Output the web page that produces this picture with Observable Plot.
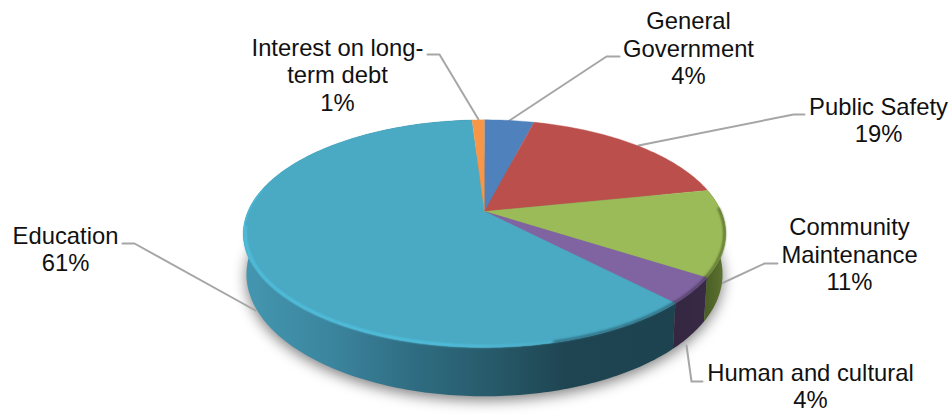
<!DOCTYPE html>
<html>
<head>
<meta charset="utf-8">
<script src="https://cdn.jsdelivr.net/npm/d3@7"></script>
<script src="https://cdn.jsdelivr.net/npm/@observablehq/plot@0.6"></script>
<style>html,body{margin:0;padding:0;background:#fff}svg{display:block}</style>
</head>
<body>
<div id="chart"></div>
<script>
// Data
const categories = ["General Government", "Public Safety", "Community Maintenance", "Human and cultural", "Education", "Interest on long-term debt"];
const printedPercent = [4, 19, 11, 4, 61, 1];
// Slice shares as drawn in the picture (percent of the circle, clockwise from 12 o'clock)
const drawnShare = [4.0, 17.8, 12.3, 3.7, 61.2, 1.0];
const labelLines = ["General\nGovernment", "Public Safety", "Community\nMaintenance", "Human and cultural", "Education", "Interest on long-\nterm debt"];
const colors = ["#4f81bd", "#bb4f4b", "#9bbb59", "#8064a2", "#4aa9c3", "#f79646"];

// Layout
const labelPos = [[688, 47.5], [878, 119], [849, 253.5], [810, 385], [65, 248], [337, 74]];
const leaders = [
  [[619, 56], [606, 56], [509, 120]],
  [[804, 114], [793, 114], [638, 145]],
  [[777, 263], [764, 263], [721, 283]],
  [[702, 381], [691, 381], [686, 345]],
  [[122, 243], [134, 243], [255, 310]],
  [[427, 54], [439, 54], [478, 119]]
];
const top3d = {cx: 484, apex: 211, H: 109.5, R: 236.6};
const bottom3d = {cx: 484, apex: 250, H: 117.4, R: 233.5};
const k = 0.1947;

const project = (deg, lvl, f = 1) => {
  const t = deg * Math.PI / 180, u = f * Math.sin(t), v = -f * Math.cos(t), w = 1 - k * v;
  return {x: lvl.cx + lvl.R * u / w, y: lvl.apex + lvl.H * v / w};
};
const arc = (a0, a1, lvl, f = 1) => {
  const n = Math.max(2, Math.ceil(Math.abs(a1 - a0)));
  return d3.range(n + 1).map(i => project(a0 + (a1 - a0) * i / n, lvl, f));
};

let acc = 0;
const slices = categories.map((name, i) => {
  const a0 = acc * 3.6; acc += drawnShare[i]; const a1 = acc * 3.6;
  return {name, a0, a1};
});
const faces = slices.flatMap(s => [{x: top3d.cx, y: top3d.apex}, ...arc(s.a0, s.a1, top3d)].map(p => ({...p, name: s.name})));
const wall = s => [...arc(s.a0, s.a1, top3d), ...arc(s.a1, s.a0, bottom3d)];
const S = Object.fromEntries(slices.map(s => [s.name, s]));
const [, , cm, hc, edu] = categories.map(c => S[c]);

const grad = (id, x1, x2, stops) => {
  const g = d3.create("svg:linearGradient").attr("id", id).attr("gradientUnits", "userSpaceOnUse")
    .attr("x1", x1).attr("x2", x2).attr("y1", 0).attr("y2", 0);
  stops.forEach(([o, c, a]) => g.append("stop").attr("offset", o).attr("stop-color", c).attr("stop-opacity", a ?? 1));
  return g.node();
};
const defs = () => {
  const d = d3.create("svg:defs");
  d.node().append(
    grad("eduWall", 245, 670, [[0, "#4496b0"], [0.2, "#3b859e"], [0.4, "#2f6c81"], [0.58, "#275a6a"], [0.75, "#1f4552"], [1, "#1e4350"]]),
    grad("hcWall", 665, 710, [[0, "#33263f"], [1, "#392a47"]]),
    grad("cmWall", 700, 726, [[0, "#465a24"], [0.6, "#54692a"], [1, "#62783a"]]),
    grad("rim", 243, 640, [[0, "#50c4e4", 0.9], [0.5, "#50c4e4", 0.9], [0.72, "#50c4e4", 0.4], [1, "#50c4e4", 0]])
  );
  return d.node();
};

const labels = categories.map((c, i) => ({
  text: `${labelLines[i]}\n${printedPercent[i]}%`, x: labelPos[i][0], y: labelPos[i][1]
}));
const leaderPts = leaders.flatMap((l, i) => l.map(([x, y]) => ({x, y, name: categories[i]})));

const plot = Plot.plot({
  width: 951, height: 414, margin: 0,
  x: {domain: [0, 951], range: [0, 951], axis: null},
  y: {domain: [0, 414], range: [0, 414], axis: null},
  color: {domain: categories, range: colors},
  style: {background: "#fff"},
  marks: [
    defs,
    // soft shadow
    Plot.line(arc(0, 360, {...bottom3d, apex: bottom3d.apex + 4}), {x: "x", y: "y", fill: "#000", fillOpacity: 0.5, imageFilter: "blur(7px)"}),
    // leader lines
    Plot.line(leaderPts, {x: "x", y: "y", z: "name", stroke: "#a6a6a6", strokeWidth: 2, curve: "linear"}),
    // walls
    Plot.line(wall(edu), {x: "x", y: "y", fill: "url(#eduWall)"}),
    Plot.line(wall(hc), {x: "x", y: "y", fill: "url(#hcWall)"}),
    Plot.line(wall(cm), {x: "x", y: "y", fill: "url(#cmWall)"}),
    // top faces
    Plot.line(faces, {x: "x", y: "y", z: "name", fill: "name", stroke: "name", strokeWidth: 0.4}),
    // bevel: bright edge on the left, soft dark edge on the front right
    Plot.line(arc(edu.a0 + 5, 262, top3d, 0.992), {x: "x", y: "y", stroke: "url(#rim)", strokeWidth: 2.6, imageFilter: "blur(1.2px)"}),
    Plot.line(arc(262, 282, top3d, 0.997), {x: "x", y: "y", stroke: "#50c4e4", strokeOpacity: 0.6, strokeWidth: 1.4, imageFilter: "blur(0.7px)"}),
    Plot.line(arc(cm.a0 + 10, cm.a1, top3d, 0.995), {x: "x", y: "y", stroke: "#4f6127", strokeWidth: 2, imageFilter: "blur(1px)"}),
    Plot.line(arc(hc.a0, hc.a1, top3d, 0.995), {x: "x", y: "y", stroke: "#4a3a5c", strokeWidth: 2, imageFilter: "blur(1px)"}),
    Plot.line(arc(edu.a0, edu.a0 + 30, top3d, 0.995), {x: "x", y: "y", stroke: "#2a6173", strokeWidth: 2, imageFilter: "blur(1px)"}),
    // labels
    Plot.text(labels, {
      x: "x", y: "y", text: "text", textAnchor: "middle", lineAnchor: "middle",
      fontFamily: "Liberation Sans", fontSize: 23.8, lineHeight: 1.155, fill: "#111"
    })
  ]
});
document.getElementById("chart").append(plot);
</script>
</body>
</html>
